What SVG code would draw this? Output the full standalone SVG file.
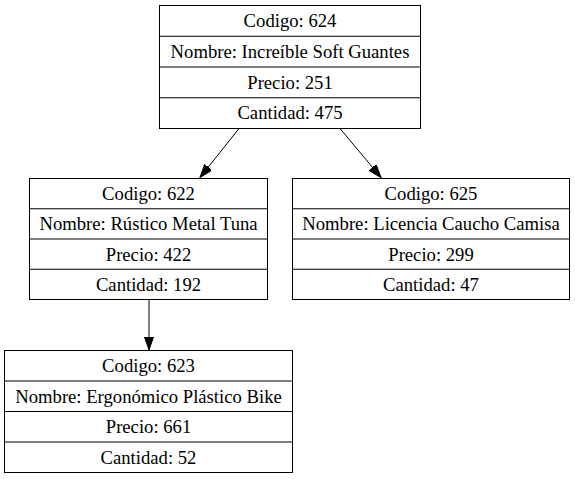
<svg xmlns="http://www.w3.org/2000/svg" width="575" height="479" viewBox="0 0 575 479">
<style>
.box{fill:none;stroke:#000;stroke-width:1}
.t{font-family:"Liberation Serif","Times New Roman","DejaVu Serif",serif;font-size:18.67px;text-anchor:middle;fill:#000}
.e{stroke:#000;stroke-width:1;fill:none}
</style>
<defs>
<marker id="ah" markerUnits="userSpaceOnUse" markerWidth="14" markerHeight="10" refX="13.3" refY="4.65" orient="auto">
<path d="M0,0 L13.3,4.65 L0,9.3 z" fill="#000" stroke="#000" stroke-width="1"/>
</marker>
</defs>
<rect width="575" height="479" fill="#fff"/>
<g id="n624">
<rect class="box" x="159.5" y="5.5" width="261" height="123"/>
<path class="box" d="M159.5,36.25H420.5M159.5,67H420.5M159.5,97.75H420.5"/>
<text class="t" x="290" y="27">Codigo: 624</text>
<text class="t" x="290" y="57.75">Nombre: Increíble Soft Guantes</text>
<text class="t" x="290" y="88.5">Precio: 251</text>
<text class="t" x="290" y="119.25">Cantidad: 475</text>
</g>
<g id="n622">
<rect class="box" x="29.5" y="178.5" width="238" height="121"/>
<path class="box" d="M29.5,208.75H267.5M29.5,239H267.5M29.5,269.25H267.5"/>
<text class="t" x="148.5" y="200">Codigo: 622</text>
<text class="t" x="148.5" y="230.25">Nombre: Rústico Metal Tuna</text>
<text class="t" x="148.5" y="260.5">Precio: 422</text>
<text class="t" x="148.5" y="290.75">Cantidad: 192</text>
</g>
<g id="n625">
<rect class="box" x="292.5" y="178.5" width="277" height="121"/>
<path class="box" d="M292.5,208.75H569.5M292.5,239H569.5M292.5,269.25H569.5"/>
<text class="t" x="431" y="200">Codigo: 625</text>
<text class="t" x="431" y="230.25">Nombre: Licencia Caucho Camisa</text>
<text class="t" x="431" y="260.5">Precio: 299</text>
<text class="t" x="431" y="290.75">Cantidad: 47</text>
</g>
<g id="n623">
<rect class="box" x="4.5" y="350.5" width="288" height="122"/>
<path class="box" d="M4.5,381H292.5M4.5,411.5H292.5M4.5,442H292.5"/>
<text class="t" x="148.5" y="372">Codigo: 623</text>
<text class="t" x="148.5" y="402.5">Nombre: Ergonómico Plástico Bike</text>
<text class="t" x="148.5" y="433">Precio: 661</text>
<text class="t" x="148.5" y="463.5">Cantidad: 52</text>
</g>
<g id="edges">
<line class="e" x1="239" y1="128.5" x2="200" y2="177.5" marker-end="url(#ah)"/>
<line class="e" x1="340" y1="128.5" x2="381" y2="177.5" marker-end="url(#ah)"/>
<line class="e" x1="149" y1="299.5" x2="149" y2="350" marker-end="url(#ah)"/>
</g>
</svg>
